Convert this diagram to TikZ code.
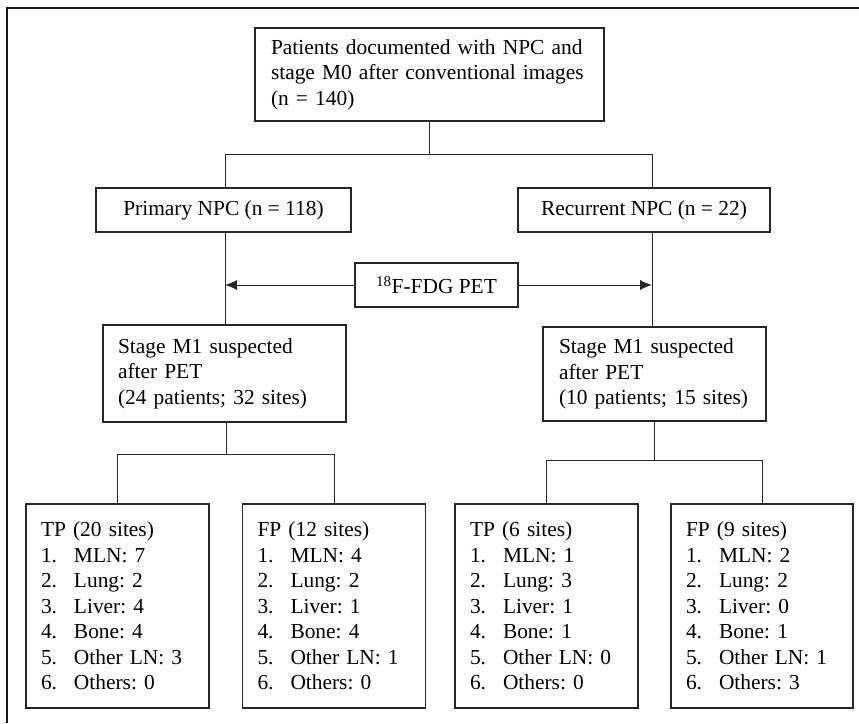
\documentclass[tikz,border=0pt]{standalone}
\usepackage{fontspec}
\setmainfont{Liberation Serif}
\usetikzlibrary{arrows.meta}
\newcommand\itm[2]{\makebox[33pt][l]{#1}#2}
\begin{document}
\begin{tikzpicture}[x=1pt,y=-1pt,
  txt/.style={font=\fontsize{21.4}{25.5}\selectfont\frenchspacing, text=black},
  box/.style={txt, draw=black!85, line width=1.1pt, inner ysep=0pt},
  lbox/.style={box, align=left},
  listbox/.style={lbox, inner xsep=15pt, text width=153pt, minimum height=204pt},
  conn/.style={draw=black!85, line width=1pt},
  arr/.style={conn, -{Latex[length=12pt,width=10pt]}}]
\useasboundingbox (0,0) rectangle (859,723);
\draw[line width=2pt, black!90] (6.5,723) -- (6.5,7.5) -- (859,7.5);

\node[lbox, inner xsep=16pt, text width=317pt, minimum height=93pt] (top) at (429.5,74.5)
  {\mbox{Patients documented with NPC and}\\\mbox{stage M0 after conventional images}\\\mbox{(n = 140)}};
\node[box, minimum width=255pt, minimum height=44pt] (prim) at (223.5,210) {Primary NPC (n = 118)};
\node[box, minimum width=252pt, minimum height=44pt] (rec) at (644,210) {Recurrent NPC (n = 22)};
\node[box, minimum width=163pt, minimum height=44pt] (pet) at (436.5,285) {\textsuperscript{18}F-FDG PET};
\node[lbox, inner xsep=15pt, text width=213pt, minimum height=97pt] (st1) at (224.5,373.5)
  {\mbox{Stage M1 suspected}\\\mbox{after PET}\\\mbox{(24 patients; 32 sites)}};
\node[lbox, inner xsep=16pt, text width=191pt, minimum height=94pt] (st2) at (654.5,374)
  {\mbox{Stage M1 suspected}\\\mbox{after PET}\\\mbox{(10 patients; 15 sites)}};

\node[listbox] (b1) at (117.5,606)
  {TP (20 sites)\\\itm{1.}{MLN: 7}\\\itm{2.}{Lung: 2}\\\itm{3.}{Liver: 4}\\\itm{4.}{Bone: 4}\\\itm{5.}{Other LN: 3}\\\itm{6.}{Others: 0}};
\node[listbox] (b2) at (334,606)
  {FP (12 sites)\\\itm{1.}{MLN: 4}\\\itm{2.}{Lung: 2}\\\itm{3.}{Liver: 1}\\\itm{4.}{Bone: 4}\\\itm{5.}{Other LN: 1}\\\itm{6.}{Others: 0}};
\node[listbox] (b3) at (546.5,606)
  {TP (6 sites)\\\itm{1.}{MLN: 1}\\\itm{2.}{Lung: 3}\\\itm{3.}{Liver: 1}\\\itm{4.}{Bone: 1}\\\itm{5.}{Other LN: 0}\\\itm{6.}{Others: 0}};
\node[listbox, text width=152pt] (b4) at (762,606)
  {FP (9 sites)\\\itm{1.}{MLN: 2}\\\itm{2.}{Lung: 2}\\\itm{3.}{Liver: 0}\\\itm{4.}{Bone: 1}\\\itm{5.}{Other LN: 1}\\\itm{6.}{Others: 3}};

\coordinate (j0) at (429.5,154);
\coordinate (jl) at (225,154);
\coordinate (jr) at (652,154);
\coordinate (kl) at (226,454);
\coordinate (kr) at (654,460);

\draw[conn] (top.south) -- (j0);
\draw[conn] (jl) -- (jr);
\draw[conn] (jl) -- (jl |- prim.north);
\draw[conn] (jr) -- (jr |- rec.north);
\draw[conn] (jl |- prim.south) -- (jl |- st1.north);
\draw[conn] (jr |- rec.south) -- (jr |- st2.north);
\draw[arr] (pet.west) -- (pet.west -| jl);
\draw[arr] (pet.east) -- (pet.east -| jr);

\draw[conn] (kl |- st1.south) -- (kl);
\draw[conn] (b1.north) -- (b1.north |- kl) -- (b2.north |- kl) -- (b2.north);
\draw[conn] (kr |- st2.south) -- (kr);
\draw[conn] (b3.north) -- (b3.north |- kr) -- (b4.north |- kr) -- (b4.north);
\end{tikzpicture}
\end{document}
